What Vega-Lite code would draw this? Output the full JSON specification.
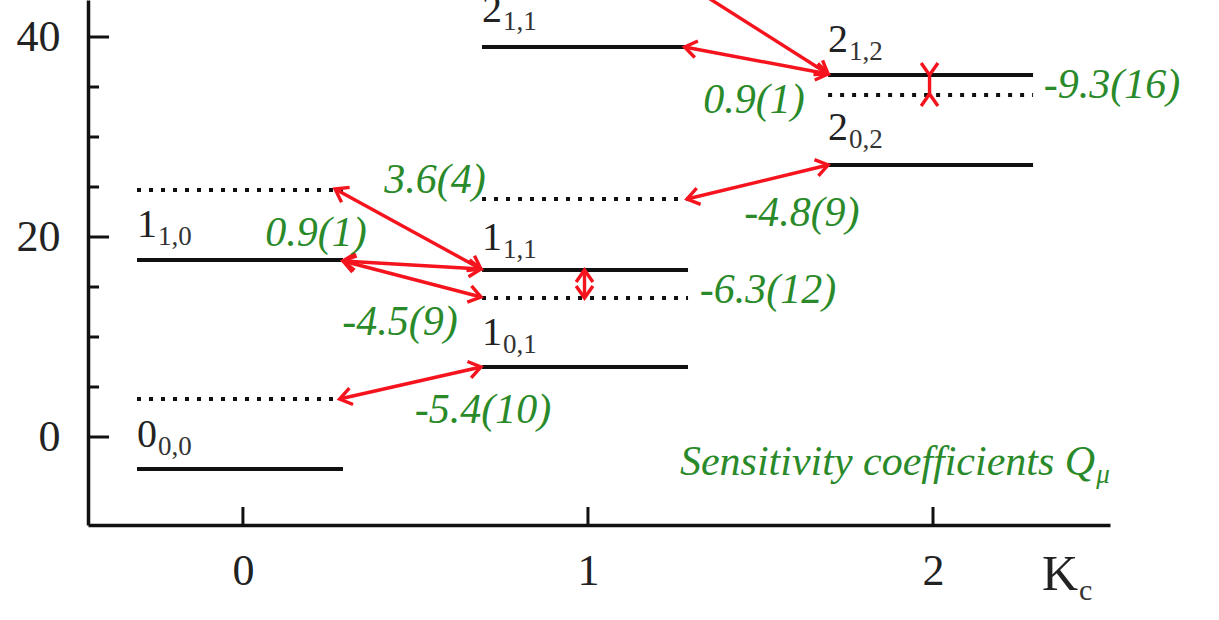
{
  "$schema": "https://vega.github.io/schema/vega-lite/v6.json",
  "width": 1022,
  "height": 525,
  "autosize": {"type": "none"},
  "padding": {"left": 88, "right": 109, "top": 0, "bottom": 95},
  "background": "white",
  "config": {"view": {"stroke": null}},
  "datasets": {
    "ticks": [
      {"x": -0.449, "x2": -0.388, "y": 0, "y2": 0},
      {"x": -0.449, "x2": -0.388, "y": 20, "y2": 20},
      {"x": -0.449, "x2": -0.388, "y": 40, "y2": 40},
      {"x": -0.449, "x2": -0.417, "y": 5, "y2": 5},
      {"x": -0.449, "x2": -0.417, "y": 10, "y2": 10},
      {"x": -0.449, "x2": -0.417, "y": 15, "y2": 15},
      {"x": -0.449, "x2": -0.417, "y": 25, "y2": 25},
      {"x": -0.449, "x2": -0.417, "y": 30, "y2": 30},
      {"x": -0.449, "x2": -0.417, "y": 35, "y2": 35},
      {"x": 0, "x2": 0, "y": -8.8, "y2": -7.0},
      {"x": 1, "x2": 1, "y": -8.8, "y2": -7.0},
      {"x": 2, "x2": 2, "y": -8.8, "y2": -7.0}
    ],
    "solid": [
      {"x": -0.307, "x2": 0.29, "y": -3.2},
      {"x": -0.307, "x2": 0.29, "y": 17.7},
      {"x": 0.693, "x2": 1.29, "y": 7.0},
      {"x": 0.693, "x2": 1.29, "y": 16.7},
      {"x": 0.693, "x2": 1.29, "y": 39.0},
      {"x": 1.696, "x2": 2.29, "y": 36.2},
      {"x": 1.696, "x2": 2.29, "y": 27.2}
    ],
    "dotted": [
      {"x": -0.307, "x2": 0.29, "y": 3.8},
      {"x": -0.307, "x2": 0.29, "y": 24.7},
      {"x": 0.693, "x2": 1.29, "y": 13.9},
      {"x": 0.693, "x2": 1.29, "y": 23.8},
      {"x": 1.696, "x2": 2.29, "y": 34.2}
    ],
    "shafts": [
      {"x": 0.28, "y": 3.8, "x2": 0.69, "y2": 7.0},
      {"x": 0.267, "y": 24.8, "x2": 0.69, "y2": 16.8},
      {"x": 0.29, "y": 17.6, "x2": 0.69, "y2": 16.8},
      {"x": 0.29, "y": 17.6, "x2": 0.69, "y2": 14.0},
      {"x": 0.99, "y": 16.7, "x2": 0.99, "y2": 13.9},
      {"x": 1.287, "y": 23.8, "x2": 1.696, "y2": 27.2},
      {"x": 1.28, "y": 39.0, "x2": 1.696, "y2": 36.3},
      {"x": 1.322, "y": 44.5, "x2": 1.696, "y2": 36.3},
      {"x": 1.99, "y": 36.2, "x2": 1.99, "y2": 34.3}
    ],
    "heads": [
      {"x": 0.69, "y": 7.0, "angle": -12.8},
      {"x": 0.28, "y": 3.8, "angle": 167.2},
      {"x": 0.267, "y": 24.8, "angle": 208.7},
      {"x": 0.69, "y": 16.8, "angle": 28.7},
      {"x": 0.69, "y": 16.8, "angle": 3.3},
      {"x": 0.29, "y": 17.6, "angle": 183.3},
      {"x": 0.69, "y": 14.0, "angle": 14.6},
      {"x": 0.29, "y": 17.6, "angle": 194.6},
      {"x": 0.99, "y": 16.7, "angle": -90},
      {"x": 0.99, "y": 13.9, "angle": 90},
      {"x": 1.696, "y": 27.2, "angle": -13.6},
      {"x": 1.287, "y": 23.8, "angle": 166.4},
      {"x": 1.696, "y": 36.3, "angle": 10.7},
      {"x": 1.28, "y": 39.0, "angle": 190.7},
      {"x": 1.696, "y": 36.3, "angle": 32.7},
      {"x": 1.99, "y": 36.2, "angle": 90},
      {"x": 1.99, "y": 34.3, "angle": -90}
    ],
    "levelLabels": [
      {"x": -0.307, "y": -1.0, "main": "0", "sub": "0,0"},
      {"x": -0.307, "y": 20.0, "main": "1", "sub": "1,0"},
      {"x": 0.693, "y": 18.7, "main": "1", "sub": "1,1"},
      {"x": 0.693, "y": 9.2, "main": "1", "sub": "0,1"},
      {"x": 0.693, "y": 41.5, "main": "2", "sub": "1,1"},
      {"x": 1.696, "y": 38.5, "main": "2", "sub": "1,2"},
      {"x": 1.696, "y": 29.7, "main": "2", "sub": "0,2"}
    ],
    "coeffs": [
      {"x": 0.557, "y": 25.7, "label": "3.6(4)"},
      {"x": 0.212, "y": 20.4, "label": "0.9(1)"},
      {"x": 0.455, "y": 11.5, "label": "-4.5(9)"},
      {"x": 0.696, "y": 2.7, "label": "-5.4(10)"},
      {"x": 1.522, "y": 14.7, "label": "-6.3(12)"},
      {"x": 1.62, "y": 22.4, "label": "-4.8(9)"},
      {"x": 1.481, "y": 33.7, "label": "0.9(1)"},
      {"x": 2.519, "y": 35.2, "label": "-9.3(16)"}
    ],
    "note": [
      {"x": 2.47, "y": -3.8, "main": "Sensitivity coefficients Q", "sub": "μ"}
    ],
    "axisName": [
      {"x": 2.316, "y": -15.3, "main": "K", "sub": "c"}
    ]
  },
  "encoding": {
    "x": {
      "field": "x", "type": "quantitative",
      "scale": {"domain": [-0.449, 2.513], "nice": false, "zero": false},
      "axis": {"values": [0, 1, 2], "ticks": false, "tickSize": 0, "grid": false, "title": null,
        "domainColor": "#111", "domainWidth": 3.5, "labelFont": "Liberation Serif", "labelFontSize": 44,
        "labelColor": "#222", "labelPadding": 24, "labelFlush": false, "labelOverlap": false}
    },
    "y": {
      "field": "y", "type": "quantitative",
      "scale": {"domain": [-8.8, 43.7], "nice": false, "zero": false},
      "axis": {"values": [0, 20, 40], "ticks": false, "tickSize": 0, "grid": false, "title": null,
        "domainColor": "#111", "domainWidth": 3.5, "labelFont": "Liberation Serif", "labelFontSize": 44,
        "labelColor": "#222", "labelPadding": 28, "labelFlush": false, "labelOverlap": false}
    }
  },
  "layer": [
    {"data": {"name": "ticks"}, "mark": {"type": "rule", "color": "#111", "strokeWidth": 3},
      "encoding": {"x2": {"field": "x2"}, "y2": {"field": "y2"}}},
    {"data": {"name": "solid"}, "mark": {"type": "rule", "color": "#111", "strokeWidth": 4},
      "encoding": {"x2": {"field": "x2"}}},
    {"data": {"name": "dotted"}, "mark": {"type": "rule", "color": "#111", "strokeWidth": 4, "strokeDash": [4, 8]},
      "encoding": {"x2": {"field": "x2"}}},
    {"data": {"name": "shafts"}, "mark": {"type": "rule", "color": "#f5141e", "strokeWidth": 3.4, "clip": true},
      "encoding": {"x2": {"field": "x2"}, "y2": {"field": "y2"}}},
    {"data": {"name": "heads"}, "mark": {"type": "point", "shape": "M-1,-0.7L0,0L-1,0.7", "filled": false,
        "stroke": "#f5141e", "strokeWidth": 3.4, "size": 576, "opacity": 1, "strokeJoin": "miter"},
      "encoding": {"angle": {"field": "angle", "type": "quantitative", "scale": null}}},
    {"data": {"name": "levelLabels"}, "mark": {"type": "text", "font": "Liberation Serif", "align": "left", "baseline": "alphabetic", "fontSize": 40, "color": "#222"},
      "encoding": {"text": {"field": "main"}}},
    {"data": {"name": "levelLabels"}, "mark": {"type": "text", "font": "Liberation Serif", "align": "left", "baseline": "alphabetic", "fontSize": 27, "color": "#333", "dx": 21, "dy": 8},
      "encoding": {"text": {"field": "sub"}}},
    {"data": {"name": "coeffs"}, "mark": {"type": "text", "font": "Liberation Serif", "align": "center", "baseline": "middle", "fontSize": 42, "fontStyle": "italic", "color": "#2a8a2a"},
      "encoding": {"text": {"field": "label"}}},
    {"data": {"name": "note"}, "mark": {"type": "text", "font": "Liberation Serif", "align": "right", "baseline": "alphabetic", "fontSize": 42, "fontStyle": "italic", "color": "#2a8a2a"},
      "encoding": {"text": {"field": "main"}}},
    {"data": {"name": "note"}, "mark": {"type": "text", "font": "Liberation Serif", "align": "left", "baseline": "alphabetic", "fontSize": 27, "fontStyle": "italic", "color": "#2a8a2a", "dx": 1, "dy": 8},
      "encoding": {"text": {"field": "sub"}}},
    {"data": {"name": "axisName"}, "mark": {"type": "text", "font": "Liberation Serif", "align": "left", "baseline": "alphabetic", "fontSize": 50, "color": "#222"},
      "encoding": {"text": {"field": "main"}}},
    {"data": {"name": "axisName"}, "mark": {"type": "text", "font": "Liberation Serif", "align": "left", "baseline": "alphabetic", "fontSize": 30, "color": "#333", "dx": 37, "dy": 10},
      "encoding": {"text": {"field": "sub"}}}
  ]
}
